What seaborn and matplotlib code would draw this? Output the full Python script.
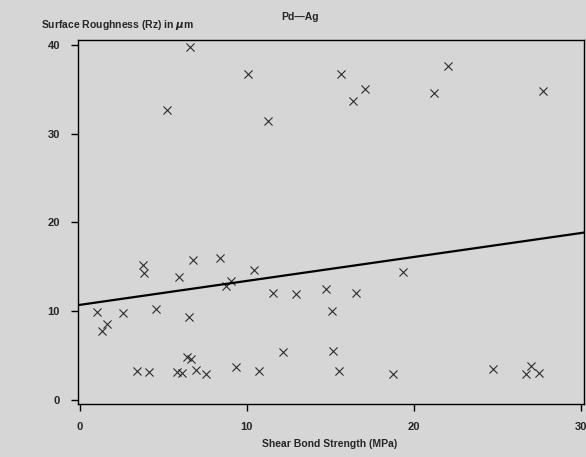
import pandas as pd
import matplotlib
matplotlib.use("Agg")
import matplotlib.pyplot as plt
import seaborn as sns

# shear bond strength (MPa) and surface roughness Rz (um)
shear = [6.59, 10.06, 5.19, 11.26, 15.61, 22.02, 17.09, 16.35, 21.22, 27.74,
         3.77, 3.85, 6.75, 8.36, 5.93, 9.02, 8.72, 1.0, 2.57, 4.57,
         6.53, 1.6, 1.3, 6.41, 6.67, 3.43, 4.11, 5.83, 6.09, 6.93,
         7.53, 9.32, 10.4, 19.32, 11.58, 12.95, 14.75, 16.55, 15.11, 12.16,
         15.13, 10.7, 15.53, 18.72, 24.73, 27.0, 26.71, 27.47]
rough = [39.7, 36.7, 32.7, 31.4, 36.7, 37.6, 35.0, 33.7, 34.6, 34.8,
         15.2, 14.3, 15.8, 16.0, 13.8, 13.4, 12.8, 9.95, 9.84, 10.3,
         9.3, 8.5, 7.8, 4.8, 4.6, 3.3, 3.1, 3.1, 3.04, 3.4,
         2.97, 3.7, 14.6, 14.4, 12.0, 11.9, 12.5, 12.1, 10.0, 5.4,
         5.56, 3.3, 3.27, 2.9, 3.5, 3.8, 2.9, 3.04]

x_ticks = [0, 10, 20, 30]
y_ticks = [0, 10, 20, 30, 40]

df = pd.DataFrame({"shear": shear, "rough": rough})

sns.set_theme(style="ticks")
plt.rcParams["font.family"] = ["Liberation Sans", "DejaVu Sans"]
plt.rcParams["font.weight"] = "bold"

bg = "#d6d6d6"
fig = plt.figure(figsize=(5.86, 4.57), dpi=100, facecolor=bg)
ax = fig.add_axes([0.133, 0.116, 0.864, 0.797], facecolor=bg)
# limits first so the fitted line runs across the whole axis
ax.set_xlim(-0.12, 30.2)
ax.set_ylim(-0.45, 40.56)

sns.regplot(data=df, x="shear", y="rough", ax=ax, ci=None, marker="x",
            scatter_kws={"color": "black", "s": 34, "linewidths": 0.8},
            line_kws={"color": "black", "lw": 1.6}, truncate=False)

ax.set_xlim(-0.12, 30.2)
ax.set_ylim(-0.45, 40.56)
ax.set_xticks(x_ticks)
ax.set_yticks(y_ticks)
ax.tick_params(labelsize=8, length=5, width=1, color="black", pad=8)
for lbl in ax.get_xticklabels() + ax.get_yticklabels():
    lbl.set_fontweight("bold")
for s in ax.spines.values():
    s.set_visible(True)
    s.set_color("black")
    s.set_linewidth(1.0)

ax.set_xlabel("")
ax.set_ylabel("")
fig.text(0.563, 0.018, "Shear Bond Strength (MPa)", ha="center", va="bottom",
         fontsize=7.5, fontweight="bold")
fig.text(0.07, 0.945, r"Surface Roughness (Rz) in $\mu$m", ha="left", va="center",
         fontsize=7.5, fontweight="bold")
fig.text(0.512, 0.963, "Pd\u2014Ag", ha="center", va="center",
         fontsize=7.5, fontweight="bold")

fig.savefig("out.png", dpi=100, facecolor=bg)
